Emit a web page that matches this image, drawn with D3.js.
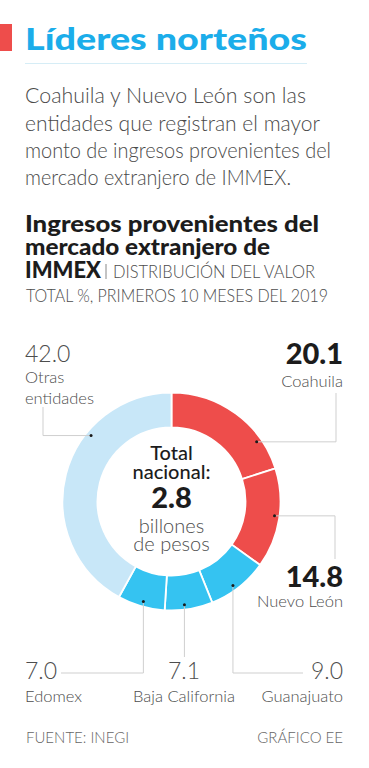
<!DOCTYPE html>
<html><head><meta charset="utf-8">
<script src="https://cdn.jsdelivr.net/npm/d3@7"></script>
<style>
html,body{margin:0;padding:0;background:#fff;}
svg{display:block;font-family:Lato,"Open Sans",sans-serif;}
</style></head>
<body>
<svg id="c" width="369" height="768"></svg>
<script>
// ---- data ----
const categories = ["Coahuila", "Nuevo León", "Guanajuato", "Baja California", "Edomex", "Otras entidades"];
const values = [20.1, 14.8, 9.0, 7.1, 7.0, 42.0];
const valueLabels = ["20.1", "14.8", "9.0", "7.1", "7.0", "42.0"];
const nameLines = [["Coahuila"], ["Nuevo León"], ["Guanajuato"], ["Baja California"], ["Edomex"], ["Otras", "entidades"]];
const groups = ["lider", "lider", "resto", "resto", "resto", "otras"];
const titleText = "Líderes norteños";
const introLines = ["Coahuila y Nuevo León son las", "entidades que registran el mayor", "monto de ingresos provenientes del", "mercado extranjero de IMMEX."];
const subtitleLines = ["Ingresos provenientes del", "mercado extranjero de", "IMMEX"];
const subtitleUnit = "DISTRIBUCIÓN DEL VALOR";
const subtitleLast = "TOTAL %, PRIMEROS 10 MESES DEL 2019";
const centerLines = ["Total", "nacional:", "2.8", "billones", "de pesos"];
const sourceText = "FUENTE: INEGI";
const creditText = "GRÁFICO EE";

// ---- layout ----
const svg = d3.select("#c");
const color = d3.scaleOrdinal().domain(["lider", "resto", "otras"]).range(["#ee4d4b", "#35c3f1", "#c8e7f8"]);
const cx = 171.5, cy = 501.5, R = 109, r = 74, dotR = 104;
const dotFrac = [0.76, 0.48, 0.56, 0.58, 0.48, 0.665];
const lightFill = "#4d4d4d";

// header
svg.append("rect").attr("x", 0).attr("y", 24).attr("width", 12).attr("height", 27).attr("fill", "#ee4d4b");
svg.append("text").attr("x", 25).attr("y", 50).text(titleText)
  .attr("font-size", 31).attr("font-weight", 900).attr("fill", "#1badea")
  .attr("textLength", 282).attr("lengthAdjust", "spacingAndGlyphs");
svg.append("line").attr("x1", 25).attr("x2", 307).attr("y1", 63.5).attr("y2", 63.5)
  .attr("stroke", "#d6edf6").attr("stroke-width", 1);

const introBase = [103, 130.5, 157.5, 185];
const introW = [281, 295, 306, 266];
svg.append("g").selectAll("text").data(introLines).join("text")
  .attr("x", 25).attr("y", (d, i) => introBase[i]).text(d => d)
  .attr("font-size", 21).attr("font-weight", 300).attr("fill", "#4a4a4a")
  .attr("textLength", (d, i) => introW[i]).attr("lengthAdjust", "spacingAndGlyphs");

const subBase = [232, 255, 278];
const subW = [294, 245, 76];
svg.append("g").selectAll("text").data(subtitleLines).join("text")
  .attr("x", 25).attr("y", (d, i) => subBase[i]).text(d => d)
  .attr("font-size", 22).attr("font-weight", 900).attr("fill", "#1c1c1c")
  .attr("textLength", (d, i) => subW[i]).attr("lengthAdjust", "spacingAndGlyphs");
svg.append("line").attr("x1", 106).attr("x2", 106).attr("y1", 264).attr("y2", 279)
  .attr("stroke", "#888").attr("stroke-width", 1);
svg.append("text").attr("x", 113).attr("y", 278).text(subtitleUnit)
  .attr("font-size", 17).attr("font-weight", 300).attr("fill", lightFill)
  .attr("textLength", 202).attr("lengthAdjust", "spacingAndGlyphs");
svg.append("text").attr("x", 26).attr("y", 302).text(subtitleLast)
  .attr("font-size", 17).attr("font-weight", 300).attr("fill", lightFill)
  .attr("textLength", 302).attr("lengthAdjust", "spacingAndGlyphs");

// donut
const pie = d3.pie().sort(null).value(d => d)(values);
const arc = d3.arc().innerRadius(r).outerRadius(R);
const g = svg.append("g").attr("transform", `translate(${cx},${cy})`);
g.selectAll("path").data(pie).join("path")
  .attr("d", arc).attr("fill", (d, i) => color(groups[i]))
  .attr("stroke", "#fff").attr("stroke-width", 1.8);

const dots = pie.map((d, i) => {
  const a = d.startAngle + dotFrac[i] * (d.endAngle - d.startAngle);
  return [cx + dotR * Math.sin(a), cy - dotR * Math.cos(a)];
});

// leader lines
const leaders = [
  p => [p, [336, p[1]], [336, 393]],
  p => [p, [335, p[1]], [335, 559]],
  p => [p, [p[0], 673], [303, 673]],
  p => [p, [p[0], 657]],
  p => [p, [p[0], 673], [61, 673]],
  p => [p, [43, p[1]], [43, 407]]
];
const line = d3.line();
svg.append("g").selectAll("path").data(dots).join("path")
  .attr("d", (p, i) => line(leaders[i](p)))
  .attr("fill", "none").attr("stroke", "#cfcfcf").attr("stroke-width", 1);
svg.append("g").selectAll("circle").data(dots).join("circle")
  .attr("cx", p => p[0]).attr("cy", p => p[1]).attr("r", 1.5).attr("fill", "#1a1a1a");

// labels
const labelPos = [
  {x: 343, anchor: "end", vy: 364, ny: [387], bold: true},
  {x: 343, anchor: "end", vy: 587, ny: [607], bold: true},
  {x: 343, anchor: "end", vy: 679, ny: [702], bold: false},
  {x: 184, anchor: "middle", vy: 679, ny: [702], bold: false},
  {x: 25, anchor: "start", vy: 679, ny: [702], bold: false},
  {x: 25, anchor: "start", vy: 362, ny: [382.5, 404], bold: false}
];
const lab = svg.append("g");
valueLabels.forEach((v, i) => {
  const L = labelPos[i];
  lab.append("text").attr("x", L.x).attr("y", L.vy).attr("text-anchor", L.anchor).text(v)
    .attr("font-size", L.bold ? 29 : 23).attr("font-weight", L.bold ? 900 : 300)
    .attr("fill", L.bold ? "#1c1c1c" : lightFill);
  nameLines[i].forEach((n, j) => {
    lab.append("text").attr("x", L.x).attr("y", L.ny[j]).attr("text-anchor", L.anchor).text(n)
      .attr("font-size", 16.5).attr("font-weight", 300).attr("fill", lightFill);
  });
});

// center
const cBase = [460, 478.5, 508, 533, 551];
const cSize = [20, 20, 29, 20, 20];
const cWeight = [500, 500, 900, 300, 300];
const cFill = ["#1c1c1c", "#1c1c1c", "#1c1c1c", lightFill, lightFill];
svg.append("g").selectAll("text").data(centerLines).join("text")
  .attr("x", cx).attr("y", (d, i) => cBase[i]).attr("text-anchor", "middle").text(d => d)
  .attr("font-size", (d, i) => cSize[i]).attr("font-weight", (d, i) => cWeight[i])
  .attr("fill", (d, i) => cFill[i]);

// footer
svg.append("text").attr("x", 26).attr("y", 743).text(sourceText)
  .attr("font-size", 15).attr("font-weight", 300).attr("fill", "#666");
svg.append("text").attr("x", 343).attr("y", 743).attr("text-anchor", "end").text(creditText)
  .attr("font-size", 15).attr("font-weight", 300).attr("fill", "#666");
</script>
</body></html>
